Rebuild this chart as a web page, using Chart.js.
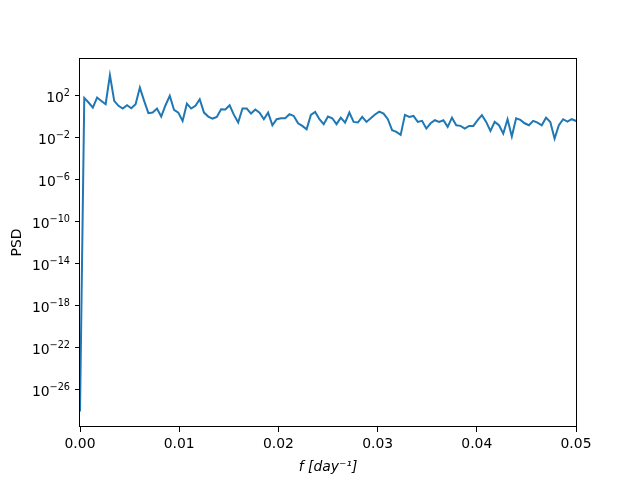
<!doctype html>
<html><head><meta charset="utf-8">
<title>PSD</title>
<script src="https://cdn.jsdelivr.net/npm/chart.js"></script>
<style>
  html, body { margin: 0; padding: 0; background: #fff; }
  #wrap { width: 640px; height: 480px; }
</style>
</head><body>
<div id="wrap"><canvas id="psdChart" width="640" height="480"></canvas></div>
<script>
// frequency bins [1/day]
const freqs = [
  0, 0.000431, 0.000862, 0.001293, 0.001724, 0.002155, 0.002586, 0.003017, 0.003448, 0.003879,
  0.004310, 0.004741, 0.005172, 0.005603, 0.006034, 0.006465, 0.006896, 0.007327, 0.007758, 0.008189,
  0.008620, 0.009051, 0.009482, 0.009913, 0.010344, 0.010775, 0.011206, 0.011637, 0.012068, 0.012499,
  0.012930, 0.013361, 0.013792, 0.014223, 0.014654, 0.015085, 0.015516, 0.015947, 0.016378, 0.016809,
  0.017240, 0.017671, 0.018102, 0.018533, 0.018964, 0.019395, 0.019826, 0.020257, 0.020688, 0.021119,
  0.021550, 0.021981, 0.022412, 0.022843, 0.023274, 0.023705, 0.024136, 0.024567, 0.024998, 0.025429,
  0.025860, 0.026291, 0.026722, 0.027153, 0.027584, 0.028015, 0.028446, 0.028877, 0.029308, 0.029739,
  0.030170, 0.030601, 0.031032, 0.031463, 0.031894, 0.032325, 0.032756, 0.033187, 0.033618, 0.034049,
  0.034480, 0.034911, 0.035342, 0.035773, 0.036204, 0.036635, 0.037066, 0.037497, 0.037928, 0.038359,
  0.038790, 0.039221, 0.039652, 0.040083, 0.040514, 0.040945, 0.041376, 0.041807, 0.042238, 0.042669,
  0.043100, 0.043531, 0.043962, 0.044393, 0.044824, 0.045255, 0.045686, 0.046117, 0.046548, 0.046979,
  0.047410, 0.047841, 0.048272, 0.048703, 0.049134, 0.049565, 0.049996, 0.050427
];

// power spectral density
const psd = [
  8e-29, 60, 22, 7.2, 65, 31, 15, 8900, 31, 10.5,
  5.8, 12, 6.2, 15, 575, 31, 2.1, 2.4, 5.8, 1.0,
  12, 93, 4.3, 2.4, 0.39, 17, 5.8, 10.5, 45, 2.4,
  1.0, 0.65, 0.93, 5.0, 4.7, 12, 1.45, 0.27, 5.8, 5.8,
  1.95, 4.7, 2.4, 0.56, 2.4, 0.15, 0.56, 0.69, 0.69, 1.66,
  1.15, 0.23, 0.13, 0.062, 1.45, 2.75, 0.56, 0.19, 1.0, 0.69,
  0.19, 0.79, 0.27, 2.4, 0.31, 0.27, 0.93, 0.31, 0.68, 1.6,
  3.0, 1.95, 0.56, 0.05, 0.035, 0.018, 1.45, 0.93, 1.15, 0.31,
  0.39, 0.072, 0.23, 0.45, 0.31, 0.45, 0.105, 0.79, 0.15, 0.13,
  0.072, 0.13, 0.13, 0.45, 1.35, 0.31, 0.043, 0.31, 0.15, 0.024,
  0.56, 0.0126, 0.69, 0.48, 0.23, 0.15, 0.39, 0.27, 0.15, 0.79,
  0.31, 0.0079, 0.15, 0.56, 0.33, 0.56, 0.39, 0.45
];

const xTicks = [0, 0.01, 0.02, 0.03, 0.04, 0.05];
const yTickExps = [2, -2, -6, -10, -14, -18, -22, -26];

const FAMILY = "'DejaVu Sans', sans-serif";
const font = { family: FAMILY, size: 13.9 };
const tickGrid = { display: true, drawOnChartArea: false, drawTicks: true, tickLength: 5, color: '#000', lineWidth: 1 };

// black box around the axes + "10^n" y labels with a real raised exponent
const frame = {
  id: 'frame',
  afterDraw(chart) {
    const { ctx, chartArea: a } = chart;
    const y = chart.scales.y;
    ctx.save();
    ctx.strokeStyle = '#000';
    ctx.lineWidth = 1;
    ctx.strokeRect(Math.round(a.left) - 0.5, Math.round(a.top) + 0.5,
      Math.round(a.right - a.left) + 1, Math.round(a.bottom - a.top) - 1);

    ctx.fillStyle = '#000';
    ctx.textBaseline = 'alphabetic';
    ctx.textAlign = 'left';
    const right = a.left - 10;
    yTickExps.forEach(e => {
      const py = y.getPixelForValue(Math.pow(10, e));
      const expText = String(e).replace('-', '\u2212');
      ctx.font = '9.7px ' + FAMILY;
      const ew = ctx.measureText(expText).width;
      ctx.font = '13.9px ' + FAMILY;
      const bw = ctx.measureText('10').width;
      const x0 = right - ew - bw;
      ctx.fillText('10', x0, py + 6);
      ctx.font = '9.7px ' + FAMILY;
      ctx.fillText(expText, x0 + bw, py + 0.5);
    });
    ctx.restore();
  }
};

new Chart(document.getElementById('psdChart'), {
  type: 'line',
  data: {
    datasets: [{
      label: 'PSD',
      data: freqs.map((f, i) => ({ x: f, y: psd[i] })),
      borderColor: '#1f77b4',
      borderWidth: 2,
      pointRadius: 0,
      tension: 0,
      fill: false
    }]
  },
  options: {
    responsive: false,
    animation: false,
    devicePixelRatio: 1,
    layout: { padding: { left: 0, top: 58, right: 64, bottom: 0 } },
    plugins: { legend: { display: false }, tooltip: { enabled: false } },
    scales: {
      x: {
        type: 'linear',
        min: 0, max: 0.05,
        grid: tickGrid,
        border: { display: false },
        afterBuildTicks: s => { s.ticks = xTicks.map(v => ({ value: v })); },
        afterFit: s => { s.height = 53; },
        ticks: { color: '#000', font, padding: 4, maxRotation: 0, callback: v => v.toFixed(2) },
        title: { display: true, text: 'f [day\u207B\u00B9]', color: '#000',
          font: { ...font, style: 'italic' }, padding: { top: 0, bottom: 4 } }
      },
      y: {
        type: 'logarithmic',
        min: Math.pow(10, -29.57), max: Math.pow(10, 5.58),
        grid: tickGrid,
        border: { display: false },
        afterBuildTicks: s => { s.ticks = yTickExps.map(e => ({ value: Math.pow(10, e) })); },
        afterFit: s => { s.width = 80; },
        ticks: { display: false },
        title: { display: true, text: 'PSD', color: '#000', font, padding: { top: 9, bottom: 0 } }
      }
    }
  },
  plugins: [frame]
});
</script>
</body></html>
